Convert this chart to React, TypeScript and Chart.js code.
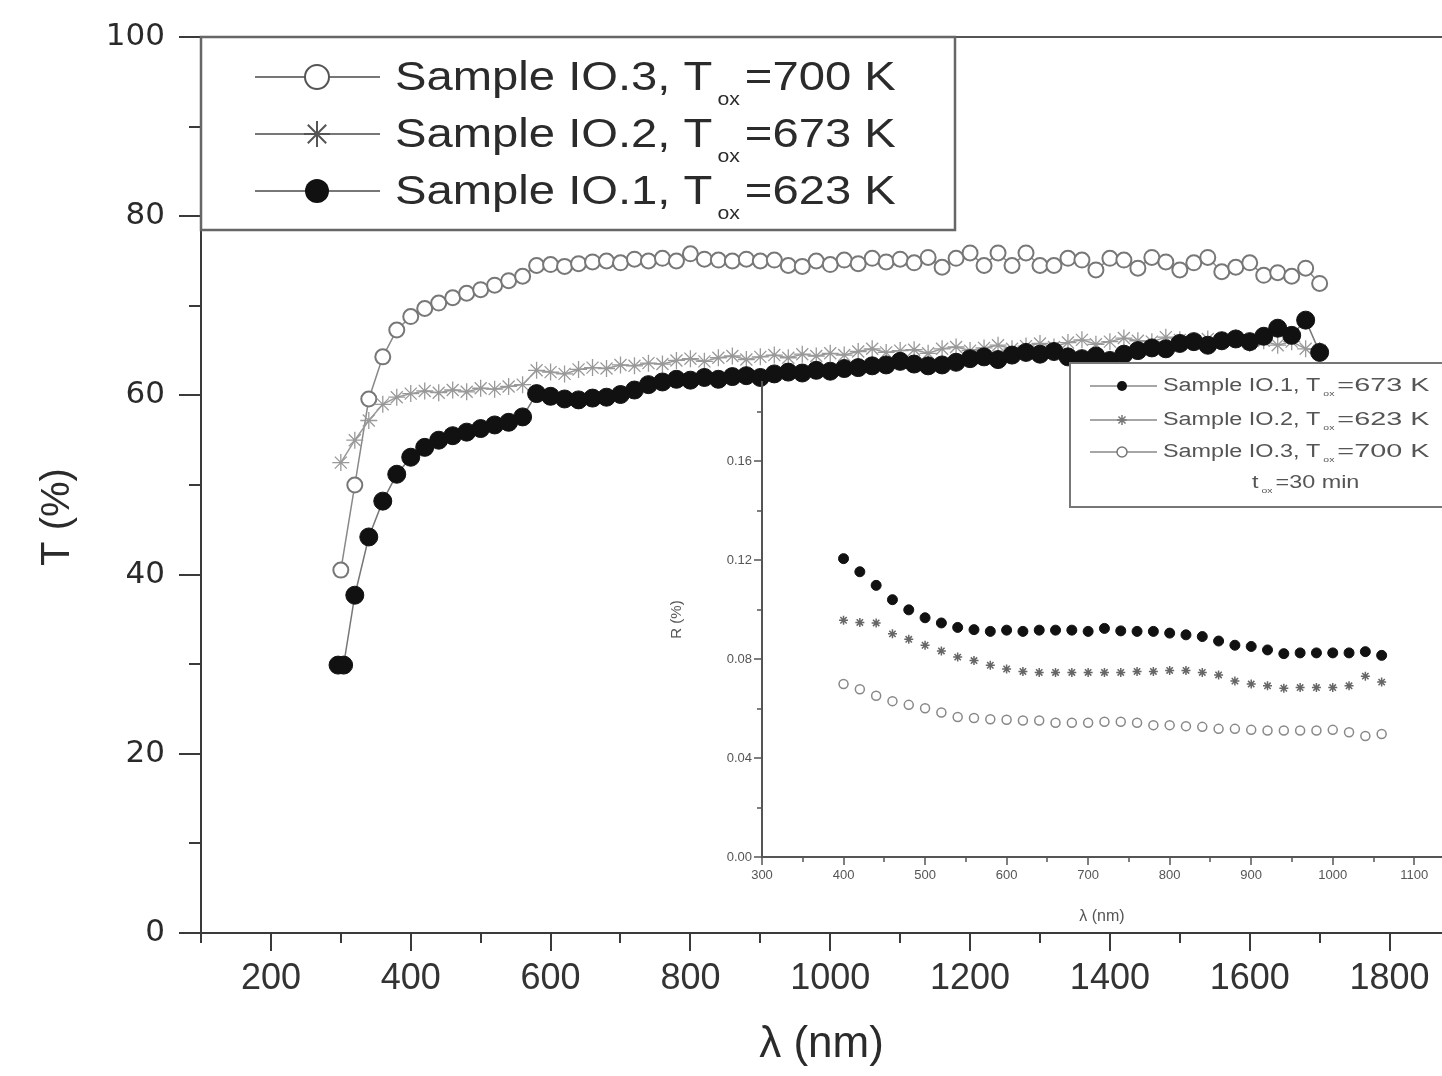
import React, { useEffect, useRef } from "react";
import { Chart, registerables } from "chart.js";

Chart.register(...registerables);

// ---------------- data ----------------
const wavelengths = [
  300, 320, 340, 360, 380, 400, 420, 440, 460, 480, 500, 520, 540, 560, 580, 600, 620, 640, 660, 680,
  700, 720, 740, 760, 780, 800, 820, 840, 860, 880, 900, 920, 940, 960, 980, 1000, 1020, 1040, 1060,
  1080, 1100, 1120, 1140, 1160, 1180, 1200, 1220, 1240, 1260, 1280, 1300, 1320, 1340, 1360, 1380,
  1400, 1420, 1440, 1460, 1480, 1500, 1520, 1540, 1560, 1580, 1600, 1620, 1640, 1660, 1680, 1700,
];
const io1Wavelengths = [
  296, 304, 320, 340, 360, 380, 400, 420, 440, 460, 480, 500, 520, 540, 560, 580, 600, 620, 640, 660,
  680, 700, 720, 740, 760, 780, 800, 820, 840, 860, 880, 900, 920, 940, 960, 980, 1000, 1020, 1040,
  1060, 1080, 1100, 1120, 1140, 1160, 1180, 1200, 1220, 1240, 1260, 1280, 1300, 1320, 1340, 1360,
  1380, 1400, 1420, 1440, 1460, 1480, 1500, 1520, 1540, 1560, 1580, 1600, 1620, 1640, 1660, 1680, 1700,
];
const io1Transmittance = [
  29.9, 29.9, 37.7, 44.2, 48.2, 51.2, 53.1, 54.2, 55.0, 55.5, 55.9, 56.3, 56.7, 57.0, 57.6,
  60.2, 59.9, 59.6, 59.5, 59.7, 59.8,
  60.1, 60.6, 61.2, 61.5, 61.8,
  61.7, 62.0, 61.8, 62.1, 62.2,
  62.0, 62.4, 62.6, 62.5, 62.8,
  62.7, 63.0, 63.1, 63.3, 63.4,
  63.8, 63.5, 63.3, 63.4, 63.7,
  64.1, 64.3, 64.0, 64.5, 64.8,
  64.6, 64.9, 64.3, 64.1, 64.4,
  63.9, 64.6, 65.0, 65.3, 65.2,
  65.8, 66.0, 65.6, 66.1, 66.3,
  66.0, 66.6, 67.5, 66.7, 68.4,
  64.8,
];
const io2Transmittance = [
  52.5, 55.0, 57.2, 59.0, 59.8,
  60.2, 60.5, 60.3, 60.6, 60.4,
  60.8, 60.7, 61.0, 61.2, 62.8,
  62.6, 62.4, 62.9, 63.1, 63.0,
  63.4, 63.3, 63.6, 63.5, 63.9,
  64.1, 63.8, 64.2, 64.4, 64.0,
  64.3, 64.5, 64.2, 64.6, 64.4,
  64.7, 64.5, 64.9, 65.2, 64.8,
  65.0, 65.1, 64.7, 65.2, 65.4,
  65.0, 65.3, 65.6, 65.2, 65.5,
  65.8, 65.4, 65.9, 66.2, 65.7,
  66.0, 66.4, 66.1, 66.0, 66.5,
  66.2, 65.9, 66.3, 66.0, 66.4,
  65.8, 66.1, 65.6, 66.0, 65.2,
  65.0,
];
const io3Transmittance = [
  40.5, 50.0, 59.6, 64.3, 67.3,
  68.8, 69.7, 70.3, 70.9, 71.4,
  71.8, 72.3, 72.8, 73.3, 74.5,
  74.6, 74.4, 74.7, 74.9, 75.0,
  74.8, 75.2, 75.0, 75.3, 75.0,
  75.8, 75.2, 75.1, 75.0, 75.2,
  75.0, 75.1, 74.5, 74.4, 75.0,
  74.6, 75.1, 74.7, 75.3, 74.9,
  75.2, 74.8, 75.4, 74.3, 75.3,
  75.9, 74.5, 75.9, 74.5, 75.9,
  74.5, 74.5, 75.3, 75.1, 74.0,
  75.3, 75.1, 74.2, 75.4, 74.9,
  74.0, 74.8, 75.4, 73.8, 74.3,
  74.8, 73.4, 73.7, 73.3, 74.2,
  72.5,
];

const insetWavelengths = [
  400, 420, 440, 460, 480, 500, 520, 540, 560, 580, 600, 620, 640, 660, 680, 700, 720,
  740, 760, 780, 800, 820, 840, 860, 880, 900, 920, 940, 960, 980, 1000, 1020, 1040, 1060,
];
const insetR1 = [
  0.1206, 0.1153, 0.1098, 0.104, 0.0999, 0.0967, 0.0946, 0.0928, 0.0919, 0.0912, 0.0917, 0.0912,
  0.0917, 0.0917, 0.0917, 0.0912, 0.0924, 0.0914, 0.0912, 0.0912, 0.0905, 0.0898, 0.0891, 0.0873,
  0.0856, 0.0851, 0.0837, 0.0822, 0.0825, 0.0825, 0.0825, 0.0825, 0.083, 0.0815,
];
const insetR2 = [
  0.0957, 0.0948, 0.0946, 0.0902, 0.088, 0.0856, 0.0833, 0.0808, 0.0794, 0.0775, 0.076, 0.075,
  0.0746, 0.0746, 0.0746, 0.0746, 0.0746, 0.0746, 0.075, 0.075, 0.0754, 0.0754, 0.0746, 0.0736,
  0.0711, 0.0699, 0.0692, 0.0682, 0.0685, 0.0685, 0.0685, 0.0692, 0.0731, 0.0707,
];
const insetR3 = [
  0.0699, 0.0678, 0.0652, 0.063, 0.0615, 0.0601, 0.0584, 0.0566, 0.0562, 0.0557, 0.0555, 0.0552,
  0.0552, 0.0543, 0.0543, 0.0543, 0.0547, 0.0547, 0.0543, 0.0533, 0.0533, 0.0529, 0.0526, 0.0518,
  0.0518, 0.0514, 0.0511, 0.0511, 0.0511, 0.0511, 0.0514, 0.0504, 0.0489, 0.0497,
];

const mainXMajor = [200, 400, 600, 800, 1000, 1200, 1400, 1600, 1800];
const mainXMinor = [100, 300, 500, 700, 900, 1100, 1300, 1500, 1700];
const mainYMajor = [0, 20, 40, 60, 80, 100];
const mainYMinor = [10, 30, 50, 70, 90];
const insetXMajor = [300, 400, 500, 600, 700, 800, 900, 1000, 1100];
const insetXMinor = [350, 450, 550, 650, 750, 850, 950, 1050];
const insetYMajor = [0, 0.04, 0.08, 0.12, 0.16];
const insetYMinor = [0.02, 0.06, 0.1, 0.14, 0.18];

const mainLegendNames = ["Sample IO.3, T", "Sample IO.2, T", "Sample IO.1, T"];
const mainLegendValues = ["=700 K", "=673 K", "=623 K"];
const insetLegendNames = ["Sample IO.1, T", "Sample IO.2, T", "Sample IO.3, T"];
const insetLegendValues = ["=673 K", "=623 K", "=700 K"];
const subscriptText = "ox";

// ---------------- helpers ----------------
const SANS = '"Liberation Sans", Arial, Helvetica, sans-serif';

type MarkerKind = "dot" | "star" | "ring";
const legendMarkers: MarkerKind[] = ["ring", "star", "dot"];
const insetLegendMarkers: MarkerKind[] = ["dot", "star", "ring"];

function drawMarker(ctx: CanvasRenderingContext2D, kind: MarkerKind, x: number, y: number, r: number, color: string, lw: number) {
  ctx.save();
  ctx.lineWidth = lw;
  ctx.strokeStyle = color;
  ctx.fillStyle = color;
  ctx.beginPath();
  if (kind === "dot") {
    ctx.arc(x, y, r, 0, Math.PI * 2);
    ctx.fill();
  } else if (kind === "ring") {
    ctx.arc(x, y, r, 0, Math.PI * 2);
    ctx.fillStyle = "#fff";
    ctx.fill();
    ctx.stroke();
  } else {
    for (let k = 0; k < 4; k++) {
      const a = (k * Math.PI) / 4;
      ctx.moveTo(x + Math.cos(a) * r, y + Math.sin(a) * r);
      ctx.lineTo(x - Math.cos(a) * r, y - Math.sin(a) * r);
    }
    ctx.stroke();
  }
  ctx.restore();
}

// draws a text piece stretched horizontally by sx, starting at x; returns end x
function drawPiece(ctx: CanvasRenderingContext2D, text: string, x: number, y: number, size: number, sx: number, color: string) {
  ctx.save();
  ctx.font = `${size}px ${SANS}`;
  ctx.fillStyle = color;
  ctx.textAlign = "left";
  ctx.textBaseline = "middle";
  ctx.translate(x, y);
  ctx.scale(sx, 1);
  ctx.fillText(text, 0, 0);
  const w = ctx.measureText(text).width * sx;
  ctx.restore();
  return x + w;
}

function drawSubLabel(
  ctx: CanvasRenderingContext2D, x: number, y: number, main: string, sub: string, rest: string,
  size: number, subSize: number, drop: number, sx: number, restSx: number, gap: number, color: string,
) {
  let end = drawPiece(ctx, main, x, y, size, sx, color);
  end = drawPiece(ctx, sub, end + gap, y + drop, subSize, sx, color);
  drawPiece(ctx, rest, end + gap, y, size, restSx, color);
}

function drawTicks(chart: any, xMajor: number[], xMinor: number[], yMajor: number[], yMinor: number[], lens: number[], color: string, width: number) {
  const { ctx, chartArea, scales } = chart;
  const sx = scales.x;
  const sy = scales.y;
  ctx.save();
  ctx.strokeStyle = color;
  ctx.lineWidth = width;
  ctx.beginPath();
  xMajor.forEach((v) => {
    const p = Math.round(sx.getPixelForValue(v));
    ctx.moveTo(p, chartArea.bottom);
    ctx.lineTo(p, chartArea.bottom + lens[0]);
  });
  xMinor.forEach((v) => {
    const p = Math.round(sx.getPixelForValue(v));
    ctx.moveTo(p, chartArea.bottom);
    ctx.lineTo(p, chartArea.bottom + lens[1]);
  });
  yMajor.forEach((v) => {
    const p = Math.round(sy.getPixelForValue(v));
    ctx.moveTo(chartArea.left, p);
    ctx.lineTo(chartArea.left - lens[2], p);
  });
  yMinor.forEach((v) => {
    const p = Math.round(sy.getPixelForValue(v));
    ctx.moveTo(chartArea.left, p);
    ctx.lineTo(chartArea.left - lens[3], p);
  });
  ctx.stroke();
  ctx.restore();
}

const zeroPad = (s: any) => {
  s.paddingTop = 0;
  s.paddingBottom = 0;
  s.paddingLeft = 0;
  s.paddingRight = 0;
};

const mainDecor = {
  id: "mainDecor",
  afterDraw(chart: any) {
    const { ctx, chartArea } = chart;
    drawTicks(chart, mainXMajor, mainXMinor, mainYMajor, mainYMinor, [18, 10, 22, 12], "#3a3a3a", 2);
    // top frame line
    ctx.save();
    ctx.strokeStyle = "#555";
    ctx.lineWidth = 2;
    ctx.beginPath();
    ctx.moveTo(chartArea.left, chartArea.top);
    ctx.lineTo(chartArea.right, chartArea.top);
    ctx.stroke();
    // legend box
    const bx = chartArea.left, by = chartArea.top, bw = 754, bh = 193;
    ctx.fillStyle = "#fff";
    ctx.fillRect(bx, by, bw, bh);
    ctx.strokeStyle = "#666";
    ctx.lineWidth = 2.5;
    ctx.strokeRect(bx, by, bw, bh);
    ctx.restore();
    const rows = [77, 134, 191];
    rows.forEach((ry, i) => {
      ctx.save();
      ctx.strokeStyle = "#777";
      ctx.lineWidth = 2;
      ctx.beginPath();
      ctx.moveTo(255, ry);
      ctx.lineTo(380, ry);
      ctx.stroke();
      ctx.restore();
      const kind = legendMarkers[i];
      drawMarker(ctx, kind, 317, ry, kind === "star" ? 13 : 12, kind === "dot" ? "#111" : "#555", 2);
      drawSubLabel(ctx, 395, ry + 2, mainLegendNames[i], subscriptText, mainLegendValues[i], 40, 18, 21, 1.18, 1.18, 5, "#2b2b2b");
    });
    // y axis title
    ctx.save();
    ctx.translate(58, 517);
    ctx.rotate(-Math.PI / 2);
    ctx.fillStyle = "#2b2b2b";
    ctx.font = `40px ${SANS}`;
    ctx.textAlign = "center";
    ctx.textBaseline = "middle";
    ctx.fillText("T (%)", 0, 0);
    ctx.restore();
  },
};

const insetDecor = {
  id: "insetDecor",
  afterDraw(chart: any) {
    const { ctx } = chart;
    drawTicks(chart, insetXMajor, insetXMinor, insetYMajor, insetYMinor, [8, 5, 8, 5], "#555", 1.5);
    // legend box (canvas coords; canvas origin at page 640,350)
    ctx.save();
    ctx.fillStyle = "#fff";
    ctx.fillRect(430, 13, 380, 144);
    ctx.strokeStyle = "#777";
    ctx.lineWidth = 2;
    ctx.strokeRect(430, 13, 380, 144);
    ctx.restore();
    const rows = [36, 70, 102];
    rows.forEach((ry, i) => {
      ctx.save();
      ctx.strokeStyle = "#888";
      ctx.lineWidth = 1.5;
      ctx.beginPath();
      ctx.moveTo(450, ry);
      ctx.lineTo(517, ry);
      ctx.stroke();
      ctx.restore();
      const kind = insetLegendMarkers[i];
      drawMarker(ctx, kind, 482, ry, 5, kind === "dot" ? "#111" : "#777", 1.5);
      drawSubLabel(ctx, 523, ry, insetLegendNames[i], subscriptText, insetLegendValues[i], 18, 8, 8, 1.3, 1.6, 3, "#555");
    });
    drawSubLabel(ctx, 612, 133, "t", subscriptText, "=30 min", 18, 8, 8, 1.3, 1.3, 3, "#555");
  },
};

export default function App() {
  const mainRef = useRef<HTMLCanvasElement | null>(null);
  const insetRef = useRef<HTMLCanvasElement | null>(null);

  useEffect(() => {
    if (!mainRef.current || !insetRef.current) return;

    const mainChart = new Chart(mainRef.current, {
      type: "line",
      data: {
        datasets: [
          {
            label: "Sample IO.1, Tox=623 K",
            data: io1Wavelengths.map((x, i) => ({ x, y: io1Transmittance[i] })),
            borderColor: "#777",
            borderWidth: 1.5,
            pointStyle: "circle",
            pointRadius: 9,
            pointBackgroundColor: "#111",
            pointBorderColor: "#111",
            pointBorderWidth: 1,
          },
          {
            label: "Sample IO.2, Tox=673 K",
            data: wavelengths.map((x, i) => ({ x, y: io2Transmittance[i] })),
            borderColor: "#999",
            borderWidth: 1.5,
            pointStyle: "star",
            pointRadius: 8.5,
            pointBackgroundColor: "#999",
            pointBorderColor: "#999",
            pointBorderWidth: 1.3,
          },
          {
            label: "Sample IO.3, Tox=700 K",
            data: wavelengths.map((x, i) => ({ x, y: io3Transmittance[i] })),
            borderColor: "#888",
            borderWidth: 1.5,
            pointStyle: "circle",
            pointRadius: 7.5,
            pointBackgroundColor: "#fff",
            pointBorderColor: "#777",
            pointBorderWidth: 2,
          },
        ],
      },
      options: {
        responsive: false,
        animation: false,
        devicePixelRatio: 1,
        layout: { autoPadding: false, padding: { top: 37, left: 0, right: 0, bottom: 0 } },
        plugins: { legend: { display: false }, tooltip: { enabled: false } },
        scales: {
          x: {
            type: "linear",
            min: 100,
            max: 1875,
            afterBuildTicks: (s: any) => {
              s.ticks = mainXMajor.map((v) => ({ value: v }));
            },
            afterFit: (s: any) => {
              s.height = 143;
              zeroPad(s);
            },
            grid: { display: false, drawTicks: false },
            border: { display: true, color: "#3a3a3a", width: 2 },
            ticks: {
              padding: 24,
              color: "#333",
              font: { family: SANS, size: 36 },
              callback: (v: any) => String(v),
              maxRotation: 0,
              autoSkip: false,
            },
            title: {
              display: true,
              text: "λ (nm)",
              color: "#2b2b2b",
              font: { family: SANS, size: 44 },
              padding: { top: 0, bottom: 5 },
            },
          },
          y: {
            type: "linear",
            min: 0,
            max: 100,
            afterBuildTicks: (s: any) => {
              s.ticks = mainYMajor.map((v) => ({ value: v }));
            },
            afterFit: (s: any) => {
              s.width = 201;
              zeroPad(s);
            },
            grid: { display: false, drawTicks: false },
            border: { display: true, color: "#3a3a3a", width: 2 },
            ticks: {
              padding: 36,
              color: "#2a2a2a",
              font: { family: '"DejaVu Sans", sans-serif', size: 31 },
              callback: (v: any) => String(v),
              autoSkip: false,
            },
          },
        },
      },
      plugins: [mainDecor],
    } as any);

    const insetChart = new Chart(insetRef.current, {
      type: "line",
      data: {
        datasets: [
          {
            label: "Sample IO.1, Tox=673 K",
            data: insetWavelengths.map((x, i) => ({ x, y: insetR1[i] })),
            showLine: false,
            pointStyle: "circle",
            pointRadius: 5,
            pointBackgroundColor: "#111",
            pointBorderColor: "#111",
            pointBorderWidth: 1,
          },
          {
            label: "Sample IO.2, Tox=623 K",
            data: insetWavelengths.map((x, i) => ({ x, y: insetR2[i] })),
            showLine: false,
            pointStyle: "star",
            pointRadius: 4.5,
            pointBackgroundColor: "#666",
            pointBorderColor: "#666",
            pointBorderWidth: 1.5,
          },
          {
            label: "Sample IO.3, Tox=700 K",
            data: insetWavelengths.map((x, i) => ({ x, y: insetR3[i] })),
            showLine: false,
            pointStyle: "circle",
            pointRadius: 4.5,
            pointBackgroundColor: "#fff",
            pointBorderColor: "#888",
            pointBorderWidth: 1.5,
          },
        ],
      },
      options: {
        responsive: false,
        animation: false,
        devicePixelRatio: 1,
        layout: { autoPadding: false, padding: { top: 32, left: 0, right: 0, bottom: 0 } },
        plugins: { legend: { display: false }, tooltip: { enabled: false } },
        scales: {
          x: {
            type: "linear",
            min: 300,
            max: 1134,
            afterBuildTicks: (s: any) => {
              s.ticks = insetXMajor.map((v) => ({ value: v }));
            },
            afterFit: (s: any) => {
              s.height = 83;
              zeroPad(s);
            },
            grid: { display: false, drawTicks: false },
            border: { display: true, color: "#555", width: 2 },
            ticks: {
              padding: 11,
              color: "#555",
              font: { family: SANS, size: 13 },
              callback: (v: any) => String(v),
              maxRotation: 0,
              autoSkip: false,
            },
            title: {
              display: true,
              text: "λ (nm)",
              color: "#555",
              font: { family: SANS, size: 16 },
              padding: { top: 0, bottom: 14 },
            },
          },
          y: {
            type: "linear",
            min: 0,
            max: 0.192,
            afterBuildTicks: (s: any) => {
              s.ticks = insetYMajor.map((v) => ({ value: v }));
            },
            afterFit: (s: any) => {
              s.width = 122;
              zeroPad(s);
            },
            grid: { display: false, drawTicks: false },
            border: { display: true, color: "#555", width: 2 },
            ticks: {
              padding: 10,
              color: "#555",
              font: { family: SANS, size: 13 },
              callback: (v: any) => Number(v).toFixed(2),
              autoSkip: false,
            },
            title: {
              display: true,
              text: "R (%)",
              color: "#555",
              font: { family: SANS, size: 15 },
              padding: { top: 28, bottom: 0 },
            },
          },
        },
      },
      plugins: [insetDecor],
    } as any);

    return () => {
      mainChart.destroy();
      insetChart.destroy();
    };
  }, []);

  return (
    <div style={{ position: "absolute", left: 0, top: 0, width: 1442, height: 1076, overflow: "hidden", background: "#fff" }}>
      <canvas ref={mainRef} width={1442} height={1076} style={{ position: "absolute", left: 0, top: 0, width: 1442, height: 1076 }} />
      <canvas ref={insetRef} width={802} height={590} style={{ position: "absolute", left: 640, top: 350, width: 802, height: 590 }} />
    </div>
  );
}
